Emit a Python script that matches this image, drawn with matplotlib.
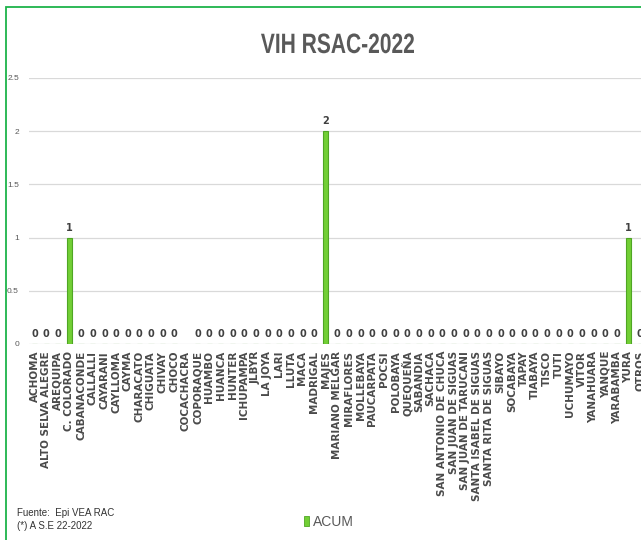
import numpy as np
import matplotlib
matplotlib.use('Agg')
import matplotlib.pyplot as plt
from matplotlib.patches import Rectangle, PathPatch
from matplotlib.textpath import TextPath
from matplotlib.font_manager import FontProperties
from matplotlib.transforms import Affine2D

categories = ['ACHOMA', 'ALTO SELVA ALEGRE', 'AREQUIPA', 'C. COLORADO', 'CABANACONDE',
              'CALLALLI', 'CAYARANI', 'CAYLLOMA', 'CAYMA', 'CHARACATO', 'CHIGUATA',
              'CHIVAY', 'CHOCO', 'COCACHACRA', 'COPORAQUE', 'HUAMBO', 'HUANCA', 'HUNTER',
              'ICHUPAMPA', 'JLBYR', 'LA JOYA', 'LARI', 'LLUTA', 'MACA', 'MADRIGAL', 'MAJES',
              'MARIANO MELGAR', 'MIRAFLORES', 'MOLLEBAYA', 'PAUCARPATA', 'POCSI',
              'POLOBAYA', 'QUEQUEÑA', 'SABANDIA', 'SACHACA', 'SAN ANTONIO DE CHUCA',
              'SAN JUAN DE SIGUAS', 'SAN JUAN DE TARUCANI', 'SANTA ISABEL DE SIGUAS',
              'SANTA RITA DE SIGUAS', 'SIBAYO', 'SOCABAYA', 'TAPAY', 'TIABAYA', 'TISCO',
              'TUTI', 'UCHUMAYO', 'VITOR', 'YANAHUARA', 'YANQUE', 'YARABAMBA', 'YURA',
              'OTROS']
# None = no data (no bar, no label)
acum = [0, 0, 0, 1, 0, 0, 0, 0, 0, 0, 0, 0, 0, None, 0, 0, 0, 0, 0, 0, 0, 0, 0, 0, 0, 2,
        0, 0, 0, 0, 0, 0, 0, 0, 0, 0, 0, 0, 0, 0, 0, 0, 0, 0, 0, 0, 0, 0, 0, 0, 0, 1, 0]
yticks = [0, 0.5, 1, 1.5, 2, 2.5]
ytick_labels = ['0', '0.5', '1', '1.5', '2', '2.5']

W, H = 641, 540
fig = plt.figure(figsize=(W / 100, H / 100), dpi=100)

# plot area runs off the right edge like the cropped original
ax = fig.add_axes([28.7 / W, (H - 344) / H, (646 - 28.7) / W, (344 - 78) / H])

x = np.arange(len(categories))
vals = np.array([np.nan if v is None else v for v in acum], dtype=float)
bars = ax.bar(x, np.nan_to_num(vals), width=0.45, color='#72CF35',
              edgecolor='#4FA624', linewidth=0.8, zorder=3)

for xi, v in zip(x, vals):
    if np.isnan(v):
        bars[xi].set_visible(False)
        continue
    ax.annotate(f'{int(v)}', (xi, v), xytext=(0, 3.5), textcoords='offset points',
                ha='center', va='bottom', fontsize=7, fontweight='bold',
                color='#404040', family=['DejaVu Sans'])

ax.set_xlim(-0.5, len(categories) - 0.5)
ax.set_ylim(0, 2.5)
ax.set_yticks(yticks)
ax.set_yticklabels(ytick_labels, fontsize=6, color='#595959', family=['Liberation Sans'])
ax.set_xticks(x)
ax.set_xticklabels(categories, rotation=90, fontsize=7.5, fontweight='bold',
                   color='#4a4a4a', family=['DejaVu Sans'])
ax.tick_params(axis='both', length=0)
ax.tick_params(axis='y', pad=7)
ax.tick_params(axis='x', pad=5)
ax.grid(axis='y', color='#D9D9D9', linewidth=0.9, zorder=0)
for s in ax.spines.values():
    s.set_visible(False)
ax.set_facecolor('none')

# title drawn as a narrowed text path (the original uses a condensed face)
fp = FontProperties(family='Liberation Sans', weight='bold')
tp = TextPath((0, 0), 'VIH RSAC-2022', size=28, prop=fp)
bb = tp.get_extents()
tr = (Affine2D().translate(-bb.x0, 0).scale(153 / bb.width, 1)
      .translate(261, H - 53).scale(1 / W, 1 / H) + fig.transFigure)
fig.patches.append(PathPatch(tp, transform=tr, facecolor='#595959', edgecolor='none'))

fig.text(17 / W, 1 - 513 / H, 'Fuente:  Epi VEA RAC', ha='left', va='center',
         fontsize=7, color='#333333', family=['Liberation Sans'])
fig.text(17 / W, 1 - 526 / H, '(*) A S.E 22-2022', ha='left', va='center',
         fontsize=7, color='#333333', family=['Liberation Sans'])

handle = Rectangle((0, 0), 1, 1, facecolor='#72CF35', edgecolor='#4FA624', linewidth=0.6)
leg = fig.legend([handle], ['ACUM'], loc='center', bbox_to_anchor=(329 / W, 1 - 522 / H),
                 frameon=False, handlelength=0.4, handleheight=0.7, handletextpad=0.3,
                 prop={'family': ['Liberation Sans'], 'size': 10})
for t in leg.get_texts():
    t.set_color('#595959')

# green chart frame (left and top edges visible)
fig.patches.append(Rectangle((6 / W, -0.05), 1.0, 1 - 7 / H + 0.05, transform=fig.transFigure,
                             fill=False, edgecolor='#1DB34A', linewidth=1.3))

fig.savefig('out.png', dpi=100)
